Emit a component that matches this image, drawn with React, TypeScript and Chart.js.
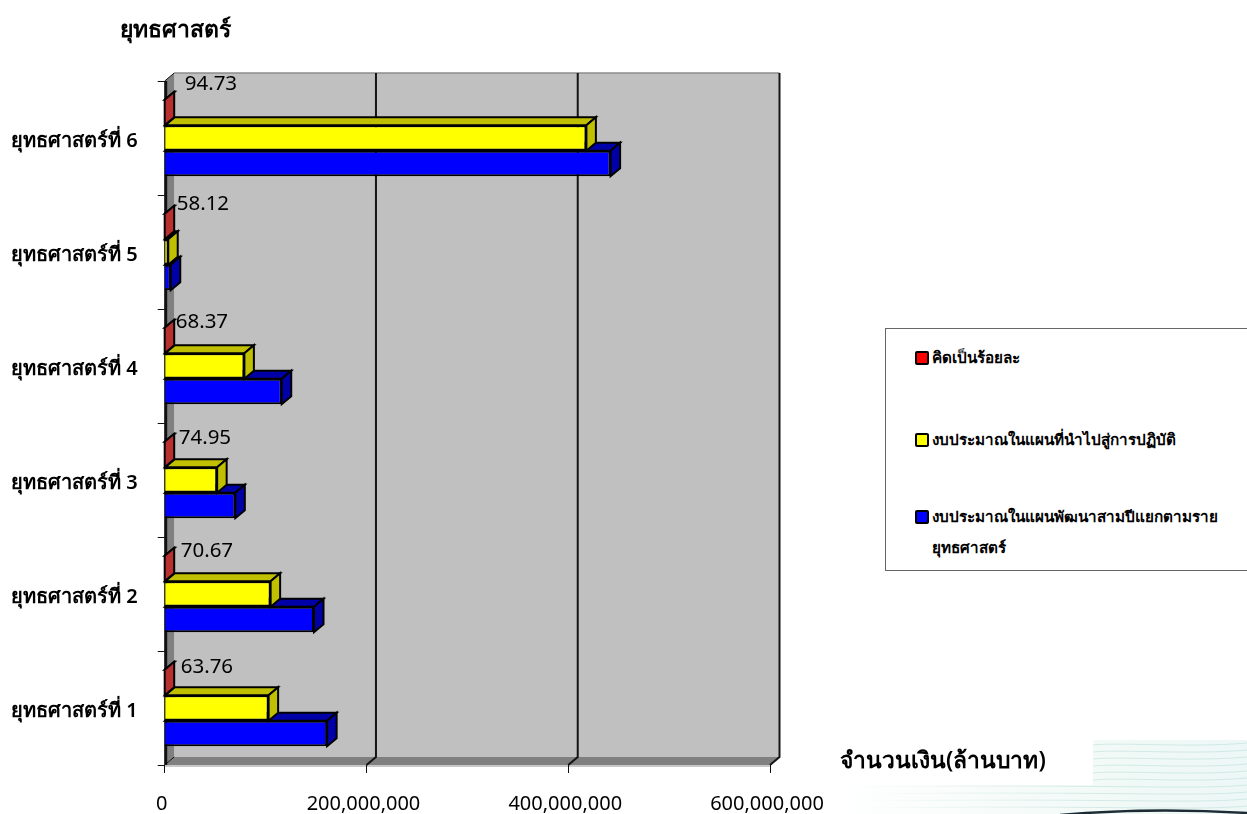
import React, { useEffect, useRef } from "react";
import { Chart, registerables } from "chart.js";

Chart.register(...registerables);

const categories = ["ยุทธศาสตร์ที่ 6", "ยุทธศาสตร์ที่ 5", "ยุทธศาสตร์ที่ 4", "ยุทธศาสตร์ที่ 3", "ยุทธศาสตร์ที่ 2", "ยุทธศาสตร์ที่ 1"];
const percentValues = [94.73, 58.12, 68.37, 74.95, 70.67, 63.76];
const implementedBudget = [418000000, 3500000, 79000000, 52000000, 105000000, 103000000];
const plannedBudget = [442000000, 6000000, 116000000, 70000000, 148000000, 161000000];
const percentLabel = "คิดเป็นร้อยละ";
const implementedLabel = "งบประมาณในแผนที่นำไปสู่การปฏิบัติ";
const plannedLines = ["งบประมาณในแผนพัฒนาสามปีแยกตาม\u200bราย", "ยุทธศาสตร์"];
const yTitle = "ยุทธศาสตร์";
const xTitle = "จำนวนเงิน(ล้านบาท)";

const FONT = '"Noto Sans", "Open Sans", sans-serif';
const DX = 9.5;
const DY = 8;
const labelOffsets = [[20, -28], [12, -22], [11, -18], [14, -16], [16, -17], [16, -15]];
const faces = [
  { top: "#b03030", side: "#b83030" },
  { top: "#c0c000", side: "#c0c000" },
  { top: "#0000a8", side: "#0000a8" },
];

const scene3d = {
  id: "scene3d",
  beforeDraw(chart: any) {
    const { ctx, width, height } = chart;
    const { left, right, top, bottom } = chart.chartArea;
    ctx.save();
    // decorative page background, lower right
    const g = ctx.createLinearGradient(825, 0, 1247, 0);
    g.addColorStop(0, "#ffffff");
    g.addColorStop(0.6, "#f3faf8");
    g.addColorStop(1, "#edf7f5");
    ctx.fillStyle = g;
    ctx.fillRect(1093, 740, width - 1093, height - 740);
    ctx.fillRect(825, 785, width - 825, height - 785);
    const streak = ctx.createLinearGradient(860, 0, 1100, 0);
    streak.addColorStop(0, "rgba(170,215,208,0)");
    streak.addColorStop(1, "rgba(170,215,208,0.45)");
    ctx.strokeStyle = streak;
    ctx.lineWidth = 1;
    for (let i = 0; i < 10; i++) {
      const y = 745 + i * 7;
      ctx.beginPath();
      ctx.moveTo(i < 6 ? 1093 : 860, y);
      ctx.bezierCurveTo(1120, y - 3, 1190, y + 3, 1247, y - 2);
      ctx.stroke();
    }
    ctx.strokeStyle = "#1c2c34";
    ctx.lineWidth = 2.5;
    ctx.beginPath();
    ctx.moveTo(1060, 815);
    ctx.quadraticCurveTo(1150, 807, 1247, 813);
    ctx.stroke();

    // walls
    const backL = left + DX, backR = right + DX, backT = top - DY, backB = bottom - DY;
    ctx.fillStyle = "#c0c0c0";
    ctx.fillRect(backL, backT, backR - backL, backB - backT);
    ctx.fillStyle = "#808080";
    ctx.beginPath();
    ctx.moveTo(left, top); ctx.lineTo(backL, backT); ctx.lineTo(backL, backB); ctx.lineTo(left, bottom);
    ctx.closePath(); ctx.fill();
    ctx.beginPath();
    ctx.moveTo(left, bottom); ctx.lineTo(backL, backB); ctx.lineTo(backR, backB); ctx.lineTo(right, bottom);
    ctx.closePath(); ctx.fill();
    ctx.strokeStyle = "#c8c8c8";
    ctx.lineWidth = 2;
    ctx.beginPath();
    ctx.moveTo(left, bottom + 1); ctx.lineTo(right, bottom + 1);
    ctx.stroke();
    ctx.strokeStyle = "#8c8c8c";
    ctx.lineWidth = 1.5;
    ctx.beginPath();
    ctx.moveTo(backL, backT); ctx.lineTo(backR, backT);
    ctx.stroke();
    // vertical grid on back wall and its step to the floor front
    const xs = chart.scales.x;
    ctx.strokeStyle = "#141414";
    ctx.lineWidth = 2;
    xs.ticks.forEach((t: any) => {
      const px = xs.getPixelForValue(t.value);
      if (t.value === 0) return;
      ctx.beginPath();
      ctx.moveTo(px + DX, backT);
      ctx.lineTo(px + DX, backB);
      ctx.lineTo(px, bottom);
      ctx.stroke();
    });
    ctx.strokeStyle = "#111";
    ctx.lineWidth = 3;
    ctx.beginPath();
    ctx.moveTo(left + 1, top); ctx.lineTo(left + 1, bottom);
    ctx.stroke();
    ctx.lineWidth = 1;
    ctx.beginPath();
    ctx.moveTo(left, top); ctx.lineTo(backL, backT);
    ctx.moveTo(left, bottom); ctx.lineTo(backL, backB);
    ctx.stroke();
    ctx.restore();
  },
  beforeDatasetDraw(chart: any, args: any) {
    const { ctx } = chart;
    const f = faces[args.index];
    const meta = chart.getDatasetMeta(args.index);
    ctx.save();
    ctx.lineWidth = 2;
    ctx.strokeStyle = "#000";
    meta.data.forEach((bar: any) => {
      const { x, y, base, height } = bar.getProps(["x", "y", "base", "height"], true);
      const y0 = y - height / 2, y1 = y + height / 2;
      ctx.fillStyle = f.top;
      ctx.beginPath();
      ctx.moveTo(base, y0); ctx.lineTo(x, y0); ctx.lineTo(x + DX, y0 - DY); ctx.lineTo(base + DX, y0 - DY);
      ctx.closePath(); ctx.fill(); ctx.stroke();
      ctx.fillStyle = f.side;
      ctx.beginPath();
      ctx.moveTo(x, y0); ctx.lineTo(x + DX, y0 - DY); ctx.lineTo(x + DX, y1 - DY); ctx.lineTo(x, y1);
      ctx.closePath(); ctx.fill(); ctx.stroke();
    });
    ctx.restore();
  },
  afterDraw(chart: any) {
    const { ctx } = chart;
    ctx.save();
    ctx.fillStyle = "#000";
    ctx.textBaseline = "middle";
    // percentage data labels
    const meta = chart.getDatasetMeta(0);
    ctx.font = `20.5px ${FONT}`;
    ctx.textAlign = "left";
    meta.data.forEach((bar: any, i: number) => {
      ctx.fillText(percentValues[i].toFixed(2), bar.x + labelOffsets[i][0], bar.y + labelOffsets[i][1]);
    });
    // axis titles
    ctx.font = `600 23px ${FONT}`;
    ctx.fillText(yTitle, 120, 30);
    ctx.font = `600 22.8px ${FONT}`;
    ctx.fillText(xTitle, 840, 762);
    ctx.restore();
  },
};

const legendItems = [
  { color: "#ff0000", lines: [percentLabel], top: 348 },
  { color: "#ffff00", lines: [implementedLabel], top: 430 },
  { color: "#0000ff", lines: plannedLines, top: 507 },
];

export default function App() {
  const ref = useRef<HTMLCanvasElement>(null);
  useEffect(() => {
    const chart = new Chart(ref.current!, {
      type: "bar",
      data: {
        labels: categories,
        datasets: [
          { label: percentLabel, data: percentValues, backgroundColor: "#ff0000" },
          { label: implementedLabel, data: implementedBudget, backgroundColor: "#ffff00" },
          { label: plannedLines.join(""), data: plannedBudget, backgroundColor: "#0000ff" },
        ],
      },
      options: {
        indexAxis: "y",
        responsive: false,
        animation: false,
        layout: { padding: { top: 81, right: 477, bottom: 0, left: 0 } },
        datasets: { bar: { categoryPercentage: 0.67, barPercentage: 1, borderColor: "#000", borderWidth: 2, clip: false } },
        plugins: { legend: { display: false }, tooltip: { enabled: false } },
        scales: {
          x: {
            min: 0,
            max: 600000000,
            afterFit(s: any) { s.height = 49; },
            grid: { drawOnChartArea: false, drawTicks: true, tickLength: 8, color: "#111", lineWidth: 1 },
            border: { display: false },
            ticks: {
              stepSize: 200000000,
              maxRotation: 0,
              padding: 19,
              labelOffset: -3,
              color: "#000",
              font: { family: FONT, size: 20 },
              callback: (v: any) => Number(v).toLocaleString("en-US"),
            },
          },
          y: {
            afterFit(s: any) { s.width = 164.7; },
            grid: { offset: true, drawOnChartArea: false, drawTicks: true, tickLength: 7, color: "#111", lineWidth: 1 },
            border: { display: false },
            ticks: {
              padding: 20,
              labelOffset: 3,
              color: "#000",
              font: { family: FONT, size: 20, weight: "600" },
            },
          },
        },
      },
      plugins: [scene3d],
    } as any);
    return () => chart.destroy();
  }, []);
  return (
    <div style={{ position: "fixed", left: 0, top: 0, width: 1247, height: 814, background: "#fff", overflow: "hidden", fontFamily: FONT }}>
      <canvas ref={ref} width={1247} height={814} style={{ display: "block" }} />
      <div style={{ position: "absolute", left: 885, top: 328, width: 380, height: 241, border: "1px solid #666", background: "#fff" }} />
      {legendItems.map((it) => (
        <div key={it.lines[0]} style={{ position: "absolute", left: 915, top: it.top, whiteSpace: "nowrap" }}>
          <span style={{ position: "absolute", left: 0, top: 3, width: 10, height: 10, background: it.color, border: "2px solid #000", borderRadius: 2 }} />
          {it.lines.map((l) => (
            <div key={l} style={{ marginLeft: 17, fontSize: 15.25, lineHeight: "31px", height: 31, marginTop: -6, marginBottom: 6, fontWeight: 600, color: "#000" }}>{l}</div>
          ))}
        </div>
      ))}
    </div>
  );
}
